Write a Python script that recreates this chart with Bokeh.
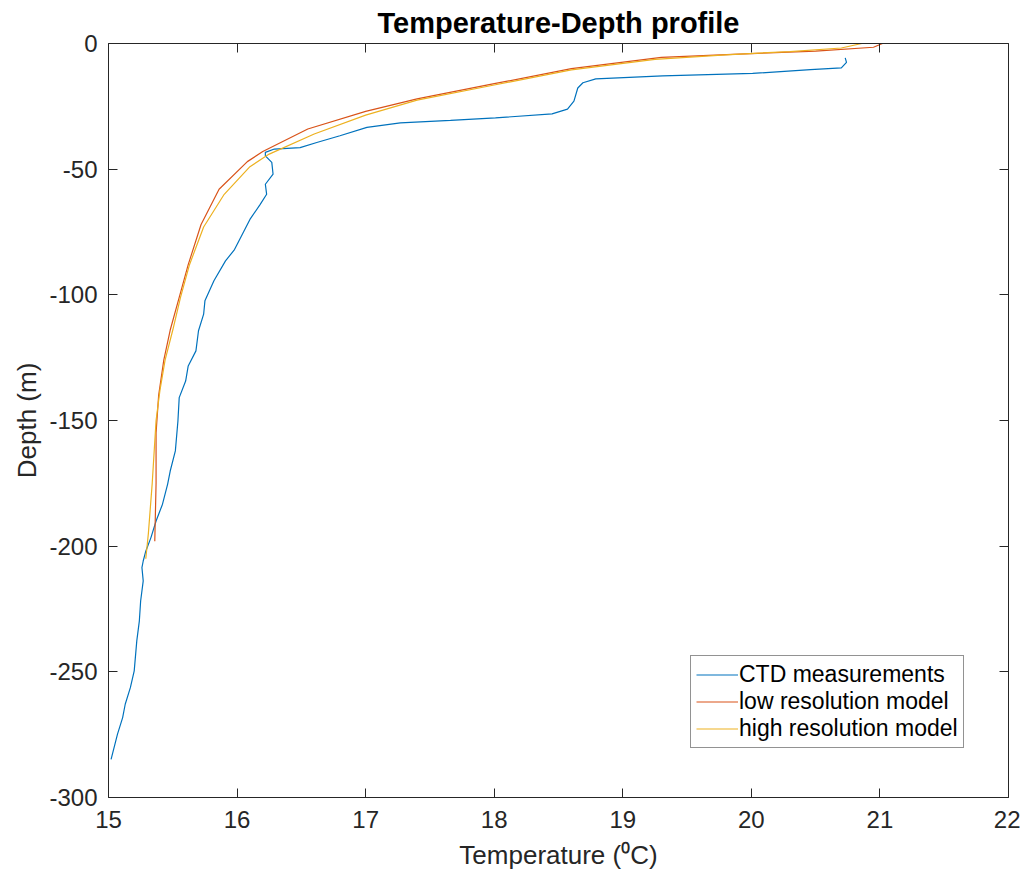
from bokeh.plotting import figure
from bokeh.models import LinearAxis, Range1d, FixedTicker, Legend, LegendItem
from bokeh.embed import file_html
from bokeh.resources import INLINE

# CTD measurements
ctd_temp = [20.73, 20.74, 20.70, 20.46, 20.01, 19.31, 18.79, 18.69, 18.65, 18.62, 18.57, 18.45,
            18.01, 17.66, 17.27, 17.01, 16.80, 16.62, 16.49, 16.29, 16.22, 16.22, 16.27, 16.28,
            16.22, 16.23, 16.18, 16.10, 16.03, 15.98, 15.91, 15.82, 15.75, 15.74, 15.70, 15.68,
            15.62, 15.60, 15.55, 15.54, 15.52, 15.48, 15.46, 15.42, 15.37, 15.33, 15.29, 15.27,
            15.26, 15.27, 15.25, 15.24, 15.22, 15.20, 15.17, 15.13, 15.11, 15.07, 15.02]
ctd_depth = [-5.7, -7.5, -9.7, -10.4, -11.9, -12.9, -14.1, -15.6, -17.7, -22.9, -26.1, -28.0,
             -29.6, -30.6, -31.6, -33.4, -36.7, -39.4, -41.4, -42.0, -43.3, -44.7, -47.3, -52.0,
             -56.0, -60.0, -64.0, -70.0, -77.0, -82.0, -86.5, -94.4, -102.4, -107.7, -114.3, -122.3,
             -128.3, -134.3, -140.9, -150.2, -162.1, -170.1, -175.3, -183.3, -190.0, -196.6, -202.0, -205.9,
             -208.5, -213.8, -221.8, -229.7, -237.7, -249.6, -256.3, -262.9, -268.2, -274.8, -284.8]

# low resolution model
low_temp = [21.02, 20.95, 20.50, 19.90, 19.30, 18.60, 18.00, 17.40, 17.00, 16.55, 16.20, 16.08,
            15.86, 15.72, 15.62, 15.55, 15.48, 15.43, 15.39, 15.37, 15.37, 15.36]
low_depth = [0.0, -1.5, -3.0, -4.2, -5.5, -10.0, -16.0, -22.0, -27.0, -34.0, -43.0, -47.0,
             -58.0, -72.0, -88.0, -101.0, -114.0, -126.0, -140.0, -155.0, -175.0, -198.0]

# high resolution model
high_temp = [20.86, 20.70, 20.30, 19.80, 19.25, 18.60, 18.00, 17.40, 17.00, 16.60, 16.25, 16.10,
             15.90, 15.74, 15.63, 15.56, 15.50, 15.44, 15.40, 15.37, 15.34, 15.31, 15.29]
high_depth = [0.0, -1.8, -3.2, -4.5, -6.3, -10.5, -16.5, -22.5, -28.5, -36.0, -44.0, -49.0,
              -60.0, -73.0, -88.0, -101.0, -114.0, -126.0, -138.0, -150.0, -175.0, -195.0, -205.0]

x_ticks = [15, 16, 17, 18, 19, 20, 21, 22]
y_ticks = [-300, -250, -200, -150, -100, -50, 0]

FONT = "Liberation Sans"
TXT = "#262626"

p = figure(frame_width=900, frame_height=754,
           x_range=Range1d(15, 22), y_range=Range1d(-300, 0),
           output_backend="svg", toolbar_location=None,
           min_border_left=108, min_border_right=12, min_border_top=43, min_border_bottom=4,
           x_axis_label="Temperature (\u2070C)", y_axis_label="Depth (m)")
p.background_fill_color = "white"
p.border_fill_color = "white"
p.outline_line_color = None
p.grid.visible = False

p.title.text = "Temperature-Depth profile"
p.title.align = "center"
p.title.vertical_align = "top"
p.title.text_font = FONT
p.title.text_font_size = "29px"
p.title.text_font_style = "bold"
p.title.text_color = "black"
p.title.standoff = 6

for ax in [p.xaxis[0], p.yaxis[0]]:
    ax.major_tick_in = 9
    ax.major_tick_out = 0
    ax.minor_tick_line_color = None
    ax.axis_line_color = TXT
    ax.major_tick_line_color = TXT
    ax.major_label_text_font = FONT
    ax.major_label_text_font_size = "24px"
    ax.major_label_text_color = TXT
    ax.axis_label_text_font = FONT
    ax.axis_label_text_font_size = "26px"
    ax.axis_label_text_font_style = "normal"
    ax.axis_label_text_color = TXT
p.xaxis[0].ticker = FixedTicker(ticks=x_ticks)
p.yaxis[0].ticker = FixedTicker(ticks=y_ticks)
p.yaxis[0].major_label_overrides = {t: str(t) for t in y_ticks}
p.xaxis[0].major_label_standoff = 13
p.xaxis[0].axis_label_standoff = 9
p.yaxis[0].major_label_standoff = 11
p.yaxis[0].axis_label_standoff = 4

top = LinearAxis(ticker=FixedTicker(ticks=x_ticks),
                 major_label_overrides={t: "" for t in x_ticks})
right = LinearAxis(ticker=FixedTicker(ticks=y_ticks),
                   major_label_overrides={t: "" for t in y_ticks})
for ax in [top, right]:
    ax.major_tick_in = 9
    ax.major_tick_out = 0
    ax.minor_tick_line_color = None
    ax.axis_line_color = TXT
    ax.major_tick_line_color = TXT
    ax.major_label_standoff = 0
p.add_layout(top, "above")
p.add_layout(right, "right")

r1 = p.line(ctd_temp, ctd_depth, line_color="#0072BD", line_width=1.2)
r2 = p.line(low_temp, low_depth, line_color="#D95319", line_width=1.2)
r3 = p.line(high_temp, high_depth, line_color="#EDB120", line_width=1.2)

legend = Legend(items=[LegendItem(label="CTD measurements", renderers=[r1]),
                       LegendItem(label="low resolution model", renderers=[r2]),
                       LegendItem(label="high resolution model", renderers=[r3])],
                location=(582, 49))
legend.border_line_color = TXT
legend.border_line_width = 1
legend.label_text_font = FONT
legend.label_text_font_size = "23px"
legend.label_text_color = "black"
legend.glyph_width = 42
legend.glyph_height = 25
legend.label_height = 25
legend.label_standoff = 1
legend.padding = 5
legend.spacing = 0
legend.margin = 0
p.add_layout(legend, "center")

open("out.html", "w").write(file_html(p, INLINE))
